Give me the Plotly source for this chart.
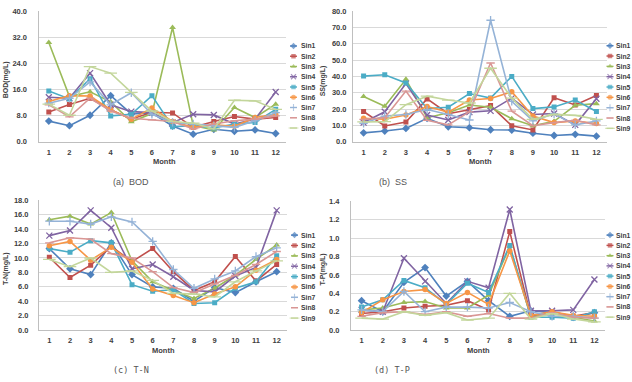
import plotly.graph_objects as go

months = list(range(1, 13))
series_names = ["Sin1", "Sin2", "Sin3", "Sin4", "Sin5", "Sin6", "Sin7", "Sin8", "Sin9"]

# BOD (mg/L)
bod_values = [
    [6.3, 4.9, 8.1, 14.1, 8.5, 8.8, 4.8, 2.3, 3.8, 3.2, 3.6, 2.5],
    [9.1, 11.4, 13.3, 9.8, 6.9, 9.0, 8.8, 4.4, 6.2, 7.7, 6.9, 7.4],
    [30.4, 13.8, 15.3, 12.2, 6.1, 8.6, 35.0, 4.9, 3.6, 10.5, 7.4, 11.5],
    [13.6, 13.3, 21.0, 11.3, 9.2, 8.9, 5.9, 8.4, 8.2, 5.4, 6.9, 15.2],
    [15.5, 13.1, 19.3, 7.9, 8.4, 14.1, 4.6, 4.9, 4.2, 5.4, 5.9, 9.9],
    [12.3, 14.1, 14.0, 9.8, 6.9, 10.3, 6.2, 4.4, 5.2, 4.7, 7.4, 8.4],
    [11.8, 13.3, 18.3, 11.3, 15.0, 8.4, 5.9, 5.4, 4.9, 4.4, 6.4, 8.9],
    [11.3, 7.6, 13.3, 9.4, 7.2, 6.7, 6.2, 3.9, 5.4, 6.4, 6.9, 7.9],
    [11.5, 8.1, 23.0, 21.0, 15.1, 9.4, 6.2, 5.7, 3.9, 12.7, 12.5, 9.9],
]
# SS (mg/L)
ss_values = [
    [5.4, 6.5, 8.1, 14.3, 9.1, 8.6, 7.3, 7.1, 5.2, 3.8, 4.5, 3.4],
    [18.5, 9.6, 12.1, 26.2, 17.1, 19.7, 22.1, 9.8, 7.2, 26.9, 22.5, 28.3],
    [27.7, 21.7, 38.2, 14.7, 17.7, 22.5, 21.1, 14.1, 9.8, 12.5, 22.3, 23.3],
    [11.7, 18.3, 35.6, 16.3, 13.3, 18.1, 18.9, 26.7, 16.7, 17.3, 10.3, 26.3],
    [40.2, 41.0, 36.0, 20.3, 21.1, 29.5, 26.7, 40.0, 20.3, 21.3, 25.5, 18.5],
    [14.3, 13.7, 16.3, 21.5, 18.1, 25.5, 26.5, 30.6, 15.7, 11.7, 12.7, 11.1],
    [11.3, 15.7, 16.7, 19.7, 16.7, 13.3, 74.4, 24.7, 12.7, 17.1, 10.3, 12.7],
    [13.7, 14.7, 31.0, 13.1, 10.3, 18.3, 48.2, 18.7, 9.8, 11.7, 13.1, 10.3],
    [12.1, 12.3, 22.7, 27.9, 25.5, 23.7, 45.0, 26.7, 13.7, 16.7, 16.1, 13.7],
]
# T-N (mg/L)
tn_values = [
    [11.3, 8.5, 7.7, 12.1, 7.7, 6.0, 5.8, 4.0, 5.9, 5.2, 6.7, 8.1],
    [10.1, 7.3, 9.0, 11.6, 9.5, 11.3, 8.1, 5.5, 6.7, 10.2, 6.8, 9.1],
    [15.3, 15.8, 14.7, 16.3, 9.6, 6.7, 5.5, 4.4, 5.8, 7.6, 9.8, 11.8],
    [13.1, 13.8, 16.6, 14.2, 8.5, 9.1, 7.4, 5.5, 5.3, 7.5, 8.7, 16.6],
    [11.3, 10.8, 12.4, 12.1, 6.3, 5.4, 5.6, 3.7, 3.8, 5.8, 6.7, 10.3],
    [11.7, 12.3, 9.7, 11.5, 9.4, 5.7, 4.8, 3.8, 5.0, 6.0, 8.3, 9.8],
    [15.1, 15.1, 14.7, 15.7, 15.0, 12.3, 8.4, 5.8, 7.1, 8.2, 10.2, 11.4],
    [12.1, 12.8, 12.6, 10.6, 10.0, 8.1, 5.9, 5.2, 6.4, 7.6, 9.1, 10.9],
    [9.8, 8.8, 10.0, 8.0, 8.2, 6.9, 5.1, 5.0, 4.6, 6.7, 8.2, 9.6],
]
# T-P (mg/L)
tp_values = [
    [0.32, 0.20, 0.52, 0.68, 0.37, 0.53, 0.32, 0.15, 0.21, 0.19, 0.14, 0.19],
    [0.18, 0.20, 0.24, 0.26, 0.27, 0.32, 0.22, 1.07, 0.15, 0.20, 0.15, 0.19],
    [0.22, 0.24, 0.30, 0.31, 0.24, 0.24, 0.38, 0.91, 0.14, 0.19, 0.14, 0.10],
    [0.22, 0.20, 0.78, 0.53, 0.29, 0.53, 0.46, 1.31, 0.21, 0.21, 0.22, 0.55],
    [0.25, 0.33, 0.54, 0.46, 0.28, 0.51, 0.41, 0.92, 0.14, 0.14, 0.13, 0.20],
    [0.19, 0.33, 0.42, 0.44, 0.29, 0.41, 0.28, 0.86, 0.16, 0.20, 0.16, 0.15],
    [0.22, 0.20, 0.42, 0.20, 0.25, 0.25, 0.24, 0.30, 0.20, 0.15, 0.15, 0.13],
    [0.15, 0.19, 0.20, 0.17, 0.20, 0.15, 0.18, 0.13, 0.13, 0.19, 0.14, 0.13],
    [0.13, 0.12, 0.20, 0.16, 0.19, 0.11, 0.13, 0.40, 0.12, 0.18, 0.12, 0.09],
]

y_titles = ["BOD(mg/L)", "SS(mg/L)", "T-N(mg/L)", "T-P(mg/L)"]
captions = ["(a)  BOD", "(b)  SS", "(c) T-N", "(d) T-P"]

# ---------------- styles ----------------
W, H = 632, 382
colors = ["#4F81BD", "#C0504D", "#9BBB59", "#8064A2", "#4BACC6",
          "#F79646", "#95B3D7", "#D99694", "#C3D69B"]
symbols = ["diamond", "square", "triangle-up", "x-thin-open", "square",
           "circle", "cross-thin-open", "line-ew-open", "line-ew-open"]
msizes = [6, 5, 6, 6, 5, 5.5, 6, 6, 9]
leg_sizes = [5, 4.5, 5, 5, 4.5, 5, 5, 5, 7]
TXT = "#404040"
FONT = "Liberation Sans"

# panel geometry in pixels: (left, right, top, bottom)
boxes = [(38.5, 286, 7.3, 141), (353, 607, 7.3, 141),
         (39, 287, 201, 334), (351, 605, 202, 334)]
ranges = [[0, 40], [0, 80], [0, 18], [0, 1.4]]
dticks = [8, 10, 2, 0.2]
standoffs = [9, 4, 8, 9]
ytitle_x = [6, 323, 6, 323]
month_x = [164, 480, 163, 478]
month_y = [161, 161, 355, 355]
caption_pos = [(131, 182), (393, 182), (131, 375), (392, 375)]
# legend: line start, marker x, line end, text x, first row y, row spacing
legends = [(290, 293.5, 297, 298.5, 43, 10.5),
           (606.5, 610, 613.5, 614, 42.7, 10.58),
           (291, 294.5, 298, 299, 236.7, 10.62),
           (606.5, 610, 613.5, 614, 236.7, 10.5)]

all_values = [bod_values, ss_values, tn_values, tp_values]

fig = go.Figure()
layout = dict(width=W, height=H, margin=dict(l=0, r=0, t=0, b=0),
              paper_bgcolor="white", plot_bgcolor="rgba(0,0,0,0)",
              showlegend=False, font=dict(family=FONT, color=TXT))
annotations = []

for p in range(4):
    n = p + 1
    xa = "x" if n == 1 else f"x{n}"
    ya = "y" if n == 1 else f"y{n}"
    l, r, t, b = boxes[p]
    for i, name in enumerate(series_names):
        fig.add_trace(go.Scatter(
            x=months, y=all_values[p][i], name=name, xaxis=xa, yaxis=ya,
            mode="lines+markers",
            line=dict(color=colors[i], width=1.6),
            marker=dict(symbol=symbols[i], size=msizes[i], color=colors[i],
                        line=dict(color=colors[i], width=1.3 if "open" in symbols[i] else 0)),
        ))
    layout[f"xaxis{'' if n == 1 else n}"] = dict(
        domain=[l / W, r / W], anchor=ya, range=[0.5, 12.5],
        tickmode="array", tickvals=months, ticktext=[str(m) for m in months],
        showgrid=False, showline=True, linecolor="#BFBFBF", linewidth=1,
        zeroline=False, ticks="", ticklabelstandoff=3,
        tickfont=dict(family=FONT, size=7.5, color=TXT, weight="bold"))
    layout[f"yaxis{'' if n == 1 else n}"] = dict(
        domain=[1 - b / H, 1 - t / H], anchor=xa, range=ranges[p],
        dtick=dticks[p], tick0=0, tickformat=".1f",
        showgrid=True, gridcolor="#D9D9D9", gridwidth=1,
        showline=True, linecolor="#BFBFBF", linewidth=1, zeroline=False,
        ticks="", ticklabelstandoff=standoffs[p],
        tickfont=dict(family=FONT, size=7.5, color=TXT, weight="bold"))
    annotations.append(dict(
        text=y_titles[p], x=ytitle_x[p] / W, y=1 - ((t + b) / 2 + 4) / H,
        xref="paper", yref="paper", showarrow=False, textangle=-90,
        xanchor="center", yanchor="middle",
        font=dict(family=FONT, size=7, color=TXT, weight="bold")))
    annotations.append(dict(
        text="Month", x=month_x[p] / W, y=1 - month_y[p] / H,
        xref="paper", yref="paper", showarrow=False,
        xanchor="center", yanchor="middle",
        font=dict(family=FONT, size=7.5, color=TXT, weight="bold")))
    cx, cy = caption_pos[p]
    annotations.append(dict(
        text=captions[p], x=cx / W, y=1 - cy / H,
        xref="paper", yref="paper", showarrow=False,
        xanchor="center", yanchor="middle",
        font=dict(family="DejaVu Sans Mono" if p >= 2 else "Liberation Sans",
                  size=8.5 if p >= 2 else 9, color="#555555")))

# legend overlay axis in pixel coordinates
layout["xaxis5"] = dict(domain=[0, 1], range=[0, W], visible=False, anchor="y5",
                        fixedrange=True)
layout["yaxis5"] = dict(domain=[0, 1], range=[H, 0], visible=False, anchor="x5",
                        fixedrange=True)
for p in range(4):
    x0, xm, x1, tx, y0, dy = legends[p]
    for i, name in enumerate(series_names):
        yy = y0 + i * dy
        fig.add_trace(go.Scatter(
            x=[x0, xm, x1], y=[yy, yy, yy], xaxis="x5", yaxis="y5",
            mode="lines+markers", hoverinfo="skip", cliponaxis=False,
            line=dict(color=colors[i], width=1.4),
            marker=dict(symbol=symbols[i], size=[0, leg_sizes[i], 0], color=colors[i],
                        line=dict(color=colors[i], width=1.1 if "open" in symbols[i] else 0)),
        ))
        annotations.append(dict(
            text=name, x=tx, y=yy, xref="x5", yref="y5", showarrow=False,
            xanchor="left", yanchor="middle",
            font=dict(family=FONT, size=6.8, color=TXT, weight="bold")))

layout["annotations"] = annotations
fig.update_layout(**layout)
fig.write_html("out.html")
